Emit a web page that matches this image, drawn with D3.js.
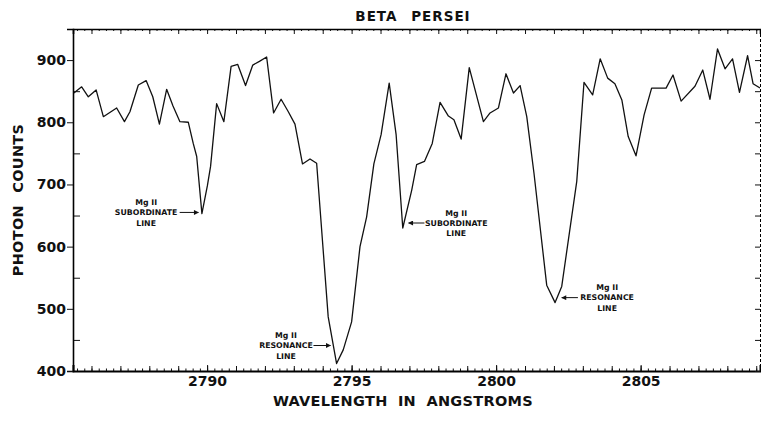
<!DOCTYPE html>
<html>
<head>
<meta charset="utf-8">
<script src="https://cdn.jsdelivr.net/npm/d3@7"></script>
<style>
    body { margin: 0; background: white; }
    text { font-family: "DejaVu Sans", sans-serif; font-weight: bold; fill: #111; }
</style>
</head>
<body>
<svg id="grafica"></svg>
<script>
/**
 * Datos (longitud de onda en angstroms, cuentas de fotones)
 */
const longitudes = [
    2785.39, 2785.66, 2785.89, 2786.16, 2786.41, 2786.87, 2787.14, 2787.33, 2787.62, 2787.89,
    2788.12, 2788.35, 2788.60, 2788.82, 2789.06, 2789.35, 2789.52, 2789.64, 2789.82, 2790.01,
    2790.12, 2790.33, 2790.58, 2790.83, 2791.06, 2791.33, 2791.58, 2791.81, 2792.06, 2792.30,
    2792.56, 2792.81, 2793.04, 2793.30, 2793.56, 2793.79, 2794.19, 2794.48, 2794.71, 2795.00,
    2795.29, 2795.52, 2795.77, 2796.02, 2796.30, 2796.54, 2796.77, 2797.08, 2797.25, 2797.52,
    2797.79, 2798.06, 2798.35, 2798.54, 2798.79, 2799.07, 2799.56, 2799.79, 2800.08, 2800.34,
    2800.60, 2800.83, 2801.06, 2801.31, 2801.75, 2802.04, 2802.27, 2802.79, 2803.04, 2803.34,
    2803.60, 2803.86, 2804.11, 2804.35, 2804.57, 2804.84, 2805.12, 2805.38, 2805.88, 2806.12,
    2806.40, 2806.88, 2807.15, 2807.40, 2807.66, 2807.92, 2808.18, 2808.42, 2808.70, 2808.89,
    2809.13
];
const conteos = [
    847, 857, 841, 852, 809, 823, 801, 817, 860, 867,
    841, 797, 853, 826, 801, 800, 766, 745, 653, 698,
    729, 830, 801, 890, 893, 859, 892, 898, 905, 815,
    837, 817, 797, 733, 741, 734, 487, 412, 434, 479,
    600, 648, 733, 780, 863, 780, 630, 691, 732, 737,
    766, 832, 810, 804, 773, 888, 801, 815, 823, 878,
    847, 859, 809, 718, 538, 510, 536, 705, 864, 844,
    902, 871, 862, 836, 777, 746, 812, 855, 855, 876,
    834, 858, 884, 837, 918, 886, 902, 848, 907, 862,
    855
];
const ticksX = [2790, 2795, 2800, 2805];
const ticksY = [400, 500, 600, 700, 800, 900];
const titulo = 'BETA PERSEI';
const tituloX = 'WAVELENGTH IN ANGSTROMS';
const tituloY = 'PHOTON COUNTS';

// notas: texto centrado en (textoX, textoY); flecha de "desde" a "hasta" a la altura flechaY
const notas = [
    { lineas: ['Mg II', 'SUBORDINATE', 'LINE'], textoX: 2787.89, textoY: 655, desde: 2789.05, hasta: 2789.70, flechaY: 655 },
    { lineas: ['Mg II', 'RESONANCE', 'LINE'], textoX: 2792.73, textoY: 441, desde: 2793.68, hasta: 2794.27, flechaY: 441 },
    { lineas: ['Mg II', 'SUBORDINATE', 'LINE'], textoX: 2798.62, textoY: 638, desde: 2797.52, hasta: 2796.97, flechaY: 638 },
    { lineas: ['Mg II', 'RESONANCE', 'LINE'], textoX: 2803.84, textoY: 518, desde: 2802.83, hasta: 2802.27, flechaY: 518 }
];

function graficarEspectro(svgId, anchoGrafica, altoGrafica) {

    /**
     * Seleccion del svg y margenes
     */
    const margen = { arriba: 29, derecha: 1, abajo: 50, izquierda: 73 };
    const ancho = anchoGrafica - margen.izquierda - margen.derecha;
    const alto = altoGrafica - margen.arriba - margen.abajo;

    const svg = d3.select('#' + svgId)
        .attr('width', anchoGrafica)
        .attr('height', altoGrafica)
        .style('background-color', 'white');

    svg.append('defs').append('marker')
        .attr('id', 'flecha')
        .attr('viewBox', '0 0 10 10')
        .attr('refX', 9)
        .attr('refY', 5)
        .attr('markerUnits', 'userSpaceOnUse')
        .attr('markerWidth', 6)
        .attr('markerHeight', 5)
        .attr('orient', 'auto')
        .append('path')
        .attr('d', 'M0,0 L10,5 L0,10 Z')
        .attr('fill', '#111');

    const g = svg.append('g')
        .attr('transform', `translate(${margen.izquierda},${margen.arriba})`);

    /**
     * Escalas
     */
    const x = d3.scaleLinear().domain([2785.36, 2809.13]).range([0, ancho]);
    const y = d3.scaleLinear().domain([400, 950]).range([alto, 0]);

    const menoresX = d3.range(2785.5, 2809.1, 0.25);
    const mayoresX = d3.range(2786, 2810, 1);

    /**
     * Ejes
     */
    // abajo: ticks hacia adentro
    g.append('g')
        .attr('transform', `translate(0,${alto})`)
        .call(d3.axisBottom(x).tickValues(menoresX).tickSize(-2.5).tickFormat(''))
        .call(e => e.select('.domain').remove());
    g.append('g')
        .attr('transform', `translate(0,${alto})`)
        .call(d3.axisBottom(x).tickValues(mayoresX).tickSize(-5).tickFormat(''))
        .call(e => e.select('.domain').remove());
    g.append('g')
        .attr('transform', `translate(0,${alto})`)
        .call(d3.axisBottom(x).tickValues(ticksX).tickSize(-6).tickPadding(5).tickFormat(d3.format('d')))
        .call(e => e.selectAll('text').style('font-size', '14px').attr('fill', '#111'))
        .call(e => e.select('.domain').attr('stroke-width', 2));

    // arriba: ticks hacia adentro
    g.append('g')
        .call(d3.axisTop(x).tickValues(menoresX).tickSize(-2).tickFormat(''))
        .call(e => e.select('.domain').remove());
    g.append('g')
        .call(d3.axisTop(x).tickValues(mayoresX).tickSize(-5).tickFormat(''))
        .call(e => e.select('.domain').attr('stroke-width', 1.6));

    // izquierda
    g.append('g')
        .call(d3.axisLeft(y).tickValues(d3.range(450, 950, 100)).tickSize(-7).tickFormat(''))
        .call(e => e.select('.domain').remove());
    g.append('g')
        .call(d3.axisLeft(y).tickValues(ticksY).tickSize(6).tickPadding(1).tickFormat(d3.format('d')))
        .call(e => e.selectAll('text').style('font-size', '14px').attr('fill', '#111'))
        .call(e => e.select('.domain').attr('stroke-width', 1.6));

    // derecha
    g.append('g')
        .attr('transform', `translate(${ancho},0)`)
        .call(d3.axisRight(y).tickValues(d3.range(400, 950, 50)).tickSize(-5).tickFormat(''))
        .call(e => e.select('.domain').attr('stroke-dasharray', '3,2').attr('stroke-width', 1));

    g.selectAll('.tick line').attr('stroke', '#111');

    /**
     * Linea del espectro
     */
    const puntos = longitudes.map((l, i) => ({ l: l, c: conteos[i] }));

    svg.select('defs').append('clipPath').attr('id', 'recorte')
        .append('rect').attr('width', ancho).attr('height', alto);

    g.append('path')
        .datum(puntos)
        .attr('clip-path', 'url(#recorte)')
        .attr('fill', 'none')
        .attr('stroke', '#111')
        .attr('stroke-width', 1.3)
        .attr('stroke-linejoin', 'round')
        .attr('d', d3.line().x(d => x(d.l)).y(d => y(d.c)));

    /**
     * Notas de las lineas de Mg II
     */
    const nota = g.selectAll('.nota')
        .data(notas)
        .join('g')
        .attr('class', 'nota');

    nota.selectAll('text')
        .data(d => d.lineas.map((t, i) => ({ t: t, i: i, n: d })))
        .join('text')
        .attr('x', d => x(d.n.textoX))
        .attr('y', d => y(d.n.textoY) + (d.i - 1) * 10.3)
        .attr('dy', '0.36em')
        .attr('text-anchor', 'middle')
        .style('font-size', '7.8px')
        .text(d => d.t);

    nota.append('line')
        .attr('x1', d => x(d.desde))
        .attr('x2', d => x(d.hasta))
        .attr('y1', d => y(d.flechaY))
        .attr('y2', d => y(d.flechaY))
        .attr('stroke', '#111')
        .attr('stroke-width', 1)
        .attr('marker-end', 'url(#flecha)');

    /**
     * Titulos
     */
    svg.append('text')
        .attr('x', 413)
        .attr('y', 21)
        .attr('text-anchor', 'middle')
        .style('font-size', '13.5px')
        .style('letter-spacing', '1px')
        .style('word-spacing', '8px')
        .text(titulo);

    svg.append('text')
        .attr('x', 403)
        .attr('y', 406)
        .attr('text-anchor', 'middle')
        .style('font-size', '14.5px')
        .style('letter-spacing', '0.3px')
        .style('word-spacing', '5px')
        .text(tituloX);

    svg.append('text')
        .attr('transform', 'translate(23,200) rotate(-90)')
        .attr('text-anchor', 'middle')
        .style('font-size', '14.5px')
        .style('letter-spacing', '0.3px')
        .style('word-spacing', '7px')
        .text(tituloY);
}

graficarEspectro('grafica', 761, 421);
</script>
</body>
</html>
